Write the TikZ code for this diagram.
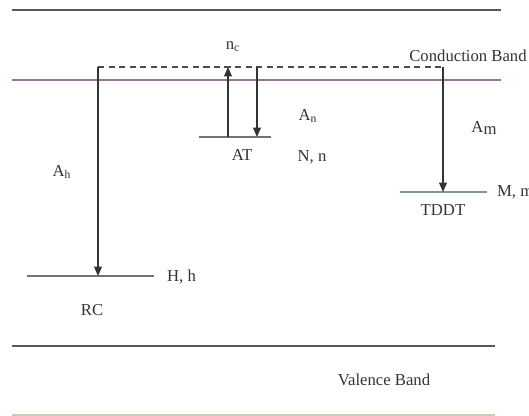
\documentclass[tikz,border=0pt]{standalone}
\usepackage{fontspec}
\setmainfont{Liberation Serif}
\usetikzlibrary{arrows.meta,positioning}
\tikzset{
  banda/.style={line width=0.6pt, draw=black!65},
  nivel/.style={line width=0.6pt, draw=black!55},
  salto/.style={-{Triangle[length=1.9mm,width=1.6mm]}, line width=0.6pt, black!80},
  virtual/.style={dash pattern=on 3.5pt off 2.5pt, line width=0.6pt, black!70},
  etiqueta/.style={font=\fontsize{9.5}{11}\selectfont, text=black!80, inner sep=1pt}
}

\begin{document}
\begin{tikzpicture}[x=0.02cm,y=-0.02cm]
  \useasboundingbox (0,0) rectangle (529,416);
  % --- Bandas ---
  \draw[banda] (12,10) -- (501,10);
  \draw[banda, draw=violet!25!gray!85] (12,80) -- (501,80);
  \draw[banda] (12,346) -- (495,346);
  \draw[banda, draw=olive!30!gray!45] (12,415) -- (495,415);
  \node[etiqueta] (CB) at (468,56) {Conduction Band};
  \node[etiqueta] (VB) at (384,380) {Valence Band};

  % --- Nivel virtual n_c ---
  \coordinate (nc1) at (98,67);
  \coordinate (nc2) at (443,67);
  \coordinate (ATs) at (228,67);
  \coordinate (ATb) at (257,67);
  \draw[virtual] (nc1) -- (nc2);
  \node[etiqueta] (nc) at (233,47) {n\textsubscript{c}};

  % --- Trampas (niveles) ---
  \coordinate (RCi) at (27,276);  \coordinate (RCd) at (154,276);
  \coordinate (ATi) at (199,137); \coordinate (ATd) at (271,137);
  \coordinate (TDi) at (400,192); \coordinate (TDd) at (487,192);
  \draw[nivel] (RCi) -- (RCd);
  \draw[nivel] (ATi) -- (ATd);
  \draw[nivel, draw=green!20!black!50] (TDi) -- (TDd);
  \coordinate (RCl) at (98,276);
  \coordinate (ATu) at (228,137);
  \coordinate (ATl) at (257,137);
  \coordinate (TDl) at (443,192);

  % --- Transiciones ---
  \draw[salto] (nc1) -- (RCl);
  \draw[salto] (ATu) -- (ATs);
  \draw[salto] (ATb) -- (ATl);
  \draw[salto] (nc2) -- (TDl);

  % --- Etiquetas ---
  \node[etiqueta] (Ah) at (62,172) {A\textsubscript{h}};
  \node[etiqueta] (AT) at (242,155) {AT};
  \node[etiqueta] (An) at (308,116) {A\textsubscript{n}};
  \node[etiqueta] (Nn) at (312,157) {N, n};
  \node[etiqueta] (Am) at (484,128) {A\raisebox{-1.2pt}{m}};
  \node[etiqueta] (TD) at (443,210) {TDDT};
  \node[etiqueta, anchor=west] (Mm) at (495,192) {M, m};
  \node[etiqueta, anchor=west] (Hh) at (165,277) {H, h};
  \node[etiqueta] (RC) at (92,310) {RC};
\end{tikzpicture}
\end{document}
